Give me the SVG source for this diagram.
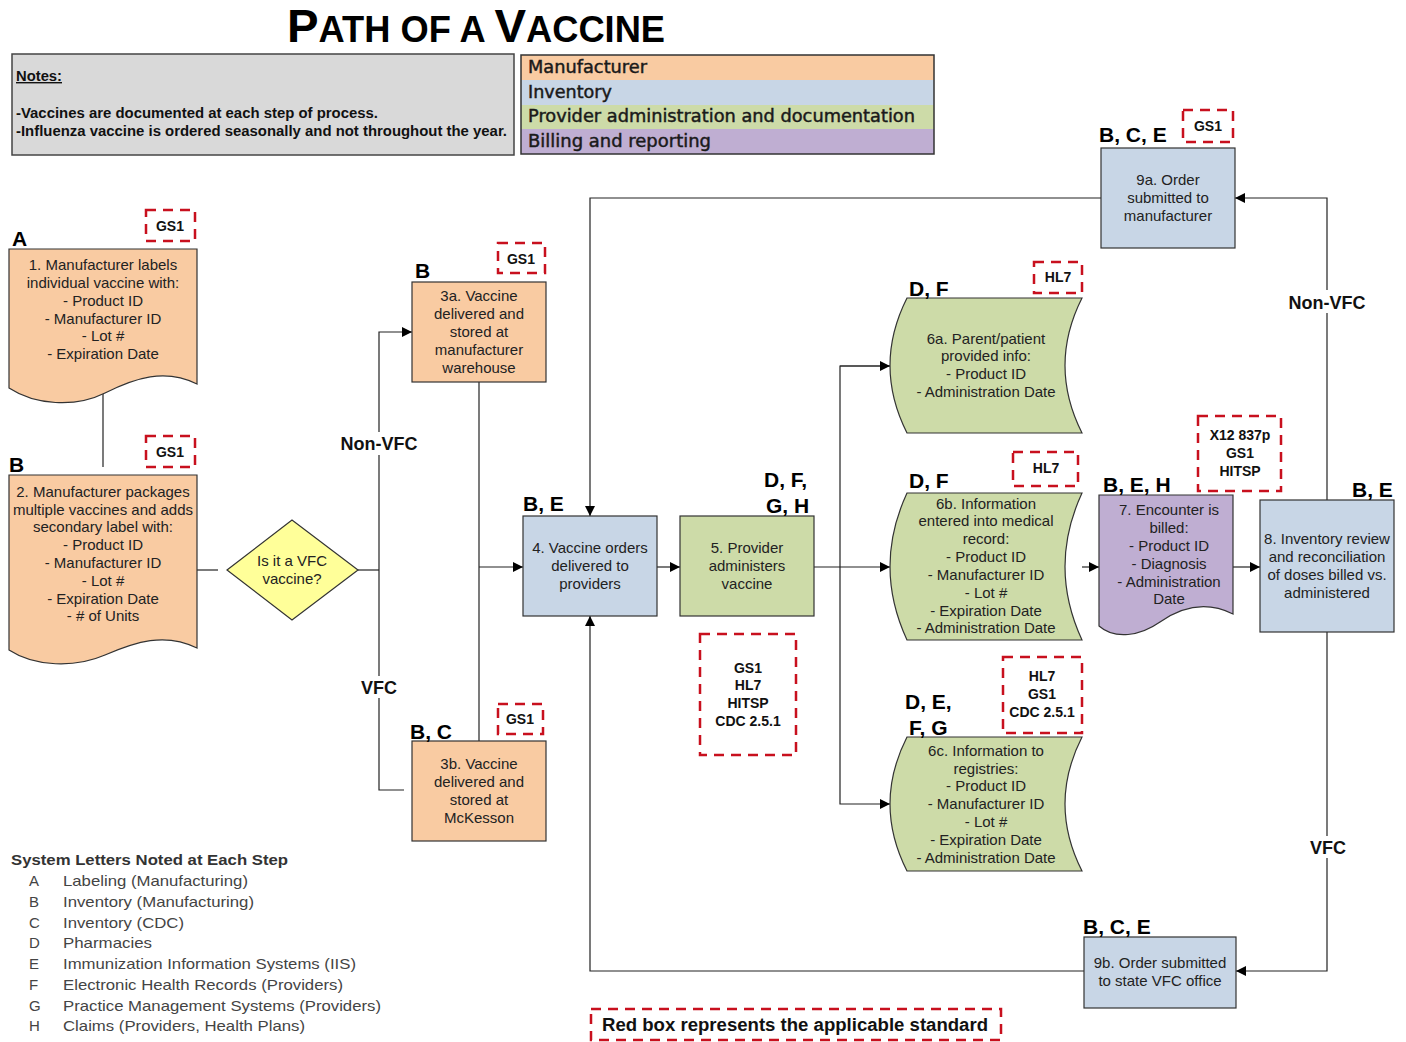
<svg xmlns="http://www.w3.org/2000/svg" width="1406" height="1042" viewBox="0 0 1406 1042">
<style>
.t{font-family:"Liberation Sans",Arial,sans-serif;font-size:15px;fill:#222;text-anchor:middle}
.lbl{font-family:"Liberation Sans",Arial,sans-serif;font-size:21px;font-weight:bold;fill:#000}
.std{fill:none;stroke:#c8101e;stroke-width:2.5;stroke-dasharray:10 7}
.st{font-family:"Liberation Sans",Arial,sans-serif;font-size:14px;font-weight:bold;fill:#111;text-anchor:middle}
.peach{fill:#f9cba2;stroke:#333;stroke-width:1.2}
.blue{fill:#c8d6e6;stroke:#333;stroke-width:1.2}
.green{fill:#cddba8;stroke:#333;stroke-width:1.2}
.purple{fill:#bfaed2;stroke:#333;stroke-width:1.2}
.c{fill:none;stroke:#222;stroke-width:1.2}
.br{font-family:"Liberation Sans",Arial,sans-serif;font-size:18px;font-weight:bold;fill:#111;text-anchor:middle}
.leg{font-family:"DejaVu Sans",Verdana,sans-serif;font-size:17px;fill:#1a1a1a;stroke:#1a1a1a;stroke-width:0.45}
.sl{font-family:"Liberation Sans",Arial,sans-serif;font-size:15px;fill:#444}
</style>
<defs>
<marker id="ah" viewBox="0 0 10 10" refX="10" refY="5" markerWidth="10" markerHeight="10" markerUnits="userSpaceOnUse" orient="auto">
<path d="M0,0 L10,5 L0,10 Z" fill="#000"/>
</marker>
</defs>
<rect width="1406" height="1042" fill="#fff"/>

<!-- Title -->
<text x="287" y="42" textLength="378" lengthAdjust="spacingAndGlyphs" style="font-family:'Liberation Sans Narrow','Liberation Sans',Arial,sans-serif;font-weight:bold;fill:#000"><tspan font-size="47">P</tspan><tspan font-size="36">ATH OF A </tspan><tspan font-size="47">V</tspan><tspan font-size="36">ACCINE</tspan></text>

<!-- Notes -->
<g id="notes">
<rect x="12" y="54" width="502" height="101" fill="#d9d9d9" stroke="#444" stroke-width="1.5"/>
<text x="16" y="81" style="font-family:'Liberation Sans Narrow','Liberation Sans',Arial,sans-serif;font-size:14px;font-weight:bold;text-decoration:underline;fill:#111" textLength="46" lengthAdjust="spacingAndGlyphs">Notes:</text>
<text x="16" y="118" style="font-family:'Liberation Sans Narrow','Liberation Sans',Arial,sans-serif;font-size:14px;font-weight:bold;fill:#111" textLength="362" lengthAdjust="spacingAndGlyphs">-Vaccines are documented at each step of process.</text>
<text x="16" y="136" style="font-family:'Liberation Sans Narrow','Liberation Sans',Arial,sans-serif;font-size:14px;font-weight:bold;fill:#111" textLength="491" lengthAdjust="spacingAndGlyphs">-Influenza vaccine is ordered seasonally and not throughout the year.</text>
</g>

<!-- Legend -->
<g id="legend">
<rect x="521" y="55" width="413" height="25" fill="#f9cba2"/>
<rect x="521" y="80" width="413" height="25" fill="#c8d6e6"/>
<rect x="521" y="105" width="413" height="24" fill="#cddba8"/>
<rect x="521" y="129" width="413" height="25" fill="#bfaed2"/>
<rect x="521" y="55" width="413" height="99" fill="none" stroke="#333" stroke-width="1.5"/>
<text class="leg" x="528" y="73" textLength="119" lengthAdjust="spacingAndGlyphs">Manufacturer</text>
<text class="leg" x="528" y="98" textLength="84" lengthAdjust="spacingAndGlyphs">Inventory</text>
<text class="leg" x="528" y="122" textLength="387" lengthAdjust="spacingAndGlyphs">Provider administration and documentation</text>
<text class="leg" x="528" y="147" textLength="183" lengthAdjust="spacingAndGlyphs">Billing and reporting</text>
</g>

<!-- Connectors -->
<g id="connectors">
<line class="c" x1="103" y1="392" x2="103" y2="467"/>
<line class="c" x1="197" y1="570" x2="218" y2="570"/>
<line class="c" x1="358" y1="570" x2="379" y2="570"/>
<polyline class="c" points="379,432 379,332 412,332" marker-end="url(#ah)"/>
<line class="c" x1="379" y1="455" x2="379" y2="676"/>
<polyline class="c" points="379,698 379,790 404,790"/>
<line class="c" x1="479" y1="382" x2="479" y2="741"/>
<line class="c" x1="479" y1="567" x2="523" y2="567" marker-end="url(#ah)"/>
<line class="c" x1="657" y1="567" x2="680" y2="567" marker-end="url(#ah)"/>
<line class="c" x1="814" y1="567" x2="890" y2="567" marker-end="url(#ah)"/>
<polyline class="c" points="890,366 840,366 840,804 890,804" marker-end="url(#ah)"/>
<line class="c" x1="840" y1="366" x2="890" y2="366" marker-end="url(#ah)"/>
<line class="c" x1="1082" y1="567" x2="1099" y2="567" marker-end="url(#ah)"/>
<line class="c" x1="1233" y1="567" x2="1260" y2="567" marker-end="url(#ah)"/>
<polyline class="c" points="1327,290 1327,198 1235,198" marker-end="url(#ah)"/>
<line class="c" x1="1327" y1="313" x2="1327" y2="500"/>
<line class="c" x1="1327" y1="632" x2="1327" y2="836"/>
<polyline class="c" points="1327,858 1327,971 1236,971" marker-end="url(#ah)"/>
<polyline class="c" points="1101,198 590,198 590,516" marker-end="url(#ah)"/>
<polyline class="c" points="1084,971 590,971 590,616" marker-end="url(#ah)"/>
<text class="br" x="379" y="450">Non-VFC</text>
<text class="br" x="379" y="694">VFC</text>
<text class="br" x="1327" y="309">Non-VFC</text>
<text class="br" x="1328" y="854">VFC</text>
</g>

<!-- Node 1 -->
<g id="node1">
<path class="peach" d="M9,249 H197 V384 C165,368 135,378 105,393 C75,408 35,405 9,388 Z"/>
<text class="t" x="103" y="270">1. Manufacturer labels</text>
<text class="t" x="103" y="288">individual vaccine with:</text>
<text class="t" x="103" y="306">- Product ID</text>
<text class="t" x="103" y="324">- Manufacturer ID</text>
<text class="t" x="103" y="341">- Lot #</text>
<text class="t" x="103" y="359">- Expiration Date</text>
<text class="lbl" x="12" y="246">A</text>
<rect class="std" x="146" y="210" width="49" height="31"/>
<text class="st" x="170" y="231">GS1</text>
</g>

<!-- Node 2 -->
<g id="node2">
<path class="peach" d="M9,475 H197 V648 C165,632 135,642 105,655 C75,668 35,667 9,650 Z"/>
<text class="t" x="103" y="497">2. Manufacturer packages</text>
<text class="t" x="103" y="515">multiple vaccines and adds</text>
<text class="t" x="103" y="532">secondary label with:</text>
<text class="t" x="103" y="550">- Product ID</text>
<text class="t" x="103" y="568">- Manufacturer ID</text>
<text class="t" x="103" y="586">- Lot #</text>
<text class="t" x="103" y="604">- Expiration Date</text>
<text class="t" x="103" y="621">- # of Units</text>
<text class="lbl" x="9" y="472">B</text>
<rect class="std" x="146" y="436" width="49" height="31"/>
<text class="st" x="170" y="457">GS1</text>
</g>

<!-- Decision -->
<g id="decision">
<polygon points="227,570 292,520 358,570 292,620" fill="#ffff99" stroke="#333" stroke-width="1.2"/>
<text class="t" x="292" y="566">Is it a VFC</text>
<text class="t" x="292" y="584">vaccine?</text>
</g>

<!-- Node 3a -->
<g id="node3a">
<rect class="peach" x="412" y="282" width="134" height="100"/>
<text class="t" x="479" y="301">3a. Vaccine</text>
<text class="t" x="479" y="319">delivered and</text>
<text class="t" x="479" y="337">stored at</text>
<text class="t" x="479" y="355">manufacturer</text>
<text class="t" x="479" y="373">warehouse</text>
<text class="lbl" x="415" y="278">B</text>
<rect class="std" x="498" y="243" width="47" height="30"/>
<text class="st" x="521" y="264">GS1</text>
</g>

<!-- Node 3b -->
<g id="node3b">
<rect class="peach" x="412" y="741" width="134" height="100"/>
<text class="t" x="479" y="769">3b. Vaccine</text>
<text class="t" x="479" y="787">delivered and</text>
<text class="t" x="479" y="805">stored at</text>
<text class="t" x="479" y="823">McKesson</text>
<text class="lbl" x="410" y="739">B, C</text>
<rect class="std" x="498" y="704" width="45" height="30"/>
<text class="st" x="520" y="724">GS1</text>
</g>

<!-- Node 4 -->
<g id="node4">
<rect class="blue" x="523" y="516" width="134" height="100"/>
<text class="t" x="590" y="553">4. Vaccine orders</text>
<text class="t" x="590" y="571">delivered to</text>
<text class="t" x="590" y="589">providers</text>
<text class="lbl" x="523" y="511">B, E</text>
</g>

<!-- Node 5 -->
<g id="node5">
<rect class="green" x="680" y="516" width="134" height="100"/>
<text class="t" x="747" y="553">5. Provider</text>
<text class="t" x="747" y="571">administers</text>
<text class="t" x="747" y="589">vaccine</text>
<text class="lbl" x="764" y="487">D, F,</text>
<text class="lbl" x="766" y="513">G, H</text>
<rect class="std" x="700" y="634" width="96" height="121"/>
<text class="st" x="748" y="673">GS1</text>
<text class="st" x="748" y="690">HL7</text>
<text class="st" x="748" y="708">HITSP</text>
<text class="st" x="748" y="726">CDC 2.5.1</text>
</g>

<!-- Node 6a -->
<g id="node6a">
<path class="green" d="M907,298 L1082,298 Q1048,365.5 1082,433 L907,433 Q873,365.5 907,298 Z"/>
<text class="t" x="986" y="344">6a. Parent/patient</text>
<text class="t" x="986" y="361">provided info:</text>
<text class="t" x="986" y="379">- Product ID</text>
<text class="t" x="986" y="397">- Administration Date</text>
<text class="lbl" x="909" y="296">D, F</text>
<rect class="std" x="1034" y="262" width="48" height="31"/>
<text class="st" x="1058" y="282">HL7</text>
</g>

<!-- Node 6b -->
<g id="node6b">
<path class="green" d="M907,493 L1082,493 Q1048,566.5 1082,640 L907,640 Q873,566.5 907,493 Z"/>
<text class="t" x="986" y="509">6b. Information</text>
<text class="t" x="986" y="526">entered into medical</text>
<text class="t" x="986" y="544">record:</text>
<text class="t" x="986" y="562">- Product ID</text>
<text class="t" x="986" y="580">- Manufacturer ID</text>
<text class="t" x="986" y="598">- Lot #</text>
<text class="t" x="986" y="616">- Expiration Date</text>
<text class="t" x="986" y="633">- Administration Date</text>
<text class="lbl" x="909" y="488">D, F</text>
<rect class="std" x="1013" y="452" width="65" height="34"/>
<text class="st" x="1046" y="473">HL7</text>
</g>

<!-- Node 6c -->
<g id="node6c">
<path class="green" d="M907,737 L1082,737 Q1048,804 1082,871 L907,871 Q873,804 907,737 Z"/>
<text class="t" x="986" y="756">6c. Information to</text>
<text class="t" x="986" y="774">registries:</text>
<text class="t" x="986" y="791">- Product ID</text>
<text class="t" x="986" y="809">- Manufacturer ID</text>
<text class="t" x="986" y="827">- Lot #</text>
<text class="t" x="986" y="845">- Expiration Date</text>
<text class="t" x="986" y="863">- Administration Date</text>
<text class="lbl" x="905" y="709">D, E,</text>
<text class="lbl" x="909" y="735">F, G</text>
<rect class="std" x="1003" y="657" width="79" height="76"/>
<text class="st" x="1042" y="681">HL7</text>
<text class="st" x="1042" y="699">GS1</text>
<text class="st" x="1042" y="717">CDC 2.5.1</text>
</g>

<!-- Node 7 -->
<g id="node7">
<path class="purple" d="M1099,495 H1233 V614 C1205,600 1180,608 1160,622 C1140,636 1115,640 1099,626 Z"/>
<text class="t" x="1169" y="515">7. Encounter is</text>
<text class="t" x="1169" y="533">billed:</text>
<text class="t" x="1169" y="551">- Product ID</text>
<text class="t" x="1169" y="569">- Diagnosis</text>
<text class="t" x="1169" y="587">- Administration</text>
<text class="t" x="1169" y="604">Date</text>
<text class="lbl" x="1103" y="492">B, E, H</text>
<rect class="std" x="1198" y="416" width="83" height="75"/>
<text class="st" x="1240" y="440">X12 837p</text>
<text class="st" x="1240" y="458">GS1</text>
<text class="st" x="1240" y="476">HITSP</text>
</g>

<!-- Node 8 -->
<g id="node8">
<rect class="blue" x="1260" y="500" width="134" height="132"/>
<text class="t" x="1327" y="544">8. Inventory review</text>
<text class="t" x="1327" y="562">and reconciliation</text>
<text class="t" x="1327" y="580">of doses billed vs.</text>
<text class="t" x="1327" y="598">administered</text>
<text class="lbl" x="1352" y="497">B, E</text>
</g>

<!-- Node 9a -->
<g id="node9a">
<rect class="blue" x="1101" y="148" width="134" height="100"/>
<text class="t" x="1168" y="185">9a. Order</text>
<text class="t" x="1168" y="203">submitted to</text>
<text class="t" x="1168" y="221">manufacturer</text>
<text class="lbl" x="1099" y="142">B, C, E</text>
<rect class="std" x="1183" y="110" width="50" height="32"/>
<text class="st" x="1208" y="131">GS1</text>
</g>

<!-- Node 9b -->
<g id="node9b">
<rect class="blue" x="1084" y="937" width="152" height="71"/>
<text class="t" x="1160" y="968">9b. Order submitted</text>
<text class="t" x="1160" y="986">to state VFC office</text>
<text class="lbl" x="1083" y="934">B, C, E</text>
</g>

<!-- Red box legend -->
<g id="redbox-legend">
<rect class="std" x="591" y="1009" width="410" height="31"/>
<text class="br" x="602" y="1031" style="text-anchor:start" textLength="386" lengthAdjust="spacingAndGlyphs">Red box represents the applicable standard</text>
</g>

<!-- System letters -->
<g id="system-letters">
<text x="11" y="865" style="font-family:'Liberation Sans',Arial,sans-serif;font-size:15px;font-weight:bold;fill:#333" textLength="277" lengthAdjust="spacingAndGlyphs">System Letters Noted at Each Step</text>
<text class="sl" x="29" y="886">A</text><text class="sl" x="63" y="886" textLength="185" lengthAdjust="spacingAndGlyphs">Labeling (Manufacturing)</text>
<text class="sl" x="29" y="907">B</text><text class="sl" x="63" y="907" textLength="191" lengthAdjust="spacingAndGlyphs">Inventory (Manufacturing)</text>
<text class="sl" x="29" y="928">C</text><text class="sl" x="63" y="928" textLength="121" lengthAdjust="spacingAndGlyphs">Inventory (CDC)</text>
<text class="sl" x="29" y="948">D</text><text class="sl" x="63" y="948" textLength="89" lengthAdjust="spacingAndGlyphs">Pharmacies</text>
<text class="sl" x="29" y="969">E</text><text class="sl" x="63" y="969" textLength="293" lengthAdjust="spacingAndGlyphs">Immunization Information Systems (IIS)</text>
<text class="sl" x="29" y="990">F</text><text class="sl" x="63" y="990" textLength="280" lengthAdjust="spacingAndGlyphs">Electronic Health Records (Providers)</text>
<text class="sl" x="29" y="1011">G</text><text class="sl" x="63" y="1011" textLength="318" lengthAdjust="spacingAndGlyphs">Practice Management Systems (Providers)</text>
<text class="sl" x="29" y="1031">H</text><text class="sl" x="63" y="1031" textLength="242" lengthAdjust="spacingAndGlyphs">Claims (Providers, Health Plans)</text>
</g>
</svg>
